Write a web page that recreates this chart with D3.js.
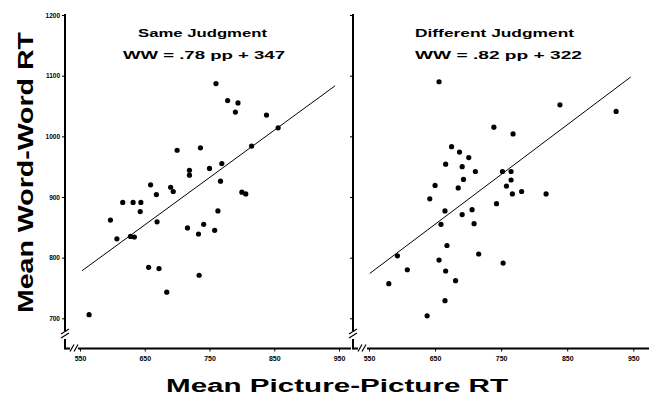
<!DOCTYPE html>
<html><head><meta charset="utf-8">
<script src="https://cdn.jsdelivr.net/npm/d3@7"></script>
<style>
html,body{margin:0;padding:0;background:#fff;}
svg{display:block;}
text{font-family:"Liberation Sans",Arial,Helvetica,sans-serif;fill:#000;}
</style></head>
<body>
<svg id="chart" width="653" height="396"></svg>
<script>
// ---- data ----
const xTicks = [550, 650, 750, 850, 950];
const yTicks = [700, 800, 900, 1000, 1100, 1200];
const panelTitles = ["Same Judgment", "Different Judgment"];
const equations = ["WW = .78 pp + 347", "WW = .82 pp + 322"];
const slopes = [0.78, 0.82];
const intercepts = [347, 322];
const lineRangeSame = [553, 944];
const lineRangeDiff = [551, 946];

const sameX = [760,778,794,790,838,856,815,700,736,719,719,750,769,767,659,668,690,694,800,806,597,616,632,644,643,669,607,628,634,656,672,684,716,733,741,758,763,734,564];
const sameY = [1087,1059,1055,1040,1035,1014,984,977,981,944,936,947,955,926,920,904,916,909,908,905,862,891,891,891,876,859,831,835,834,784,782,743,849,839,855,845,877,771,706];

const diffX = [656,839,924,739,768,675,687,701,666,691,711,752,765,693,765,650,685,758,767,781,818,642,743,665,691,706,659,709,668,716,593,656,753,608,666,681,580,665,638];
const diffY = [1090,1052,1041,1015,1004,983,974,965,954,950,942,942,942,929,928,919,915,918,905,909,905,897,889,877,871,879,855,856,820,806,803,796,791,780,778,762,757,729,704];

const xLabel = "Mean Picture-Picture RT";
const yLabel = "Mean Word-Word RT";

// ---- drawing ----
const svg = d3.select("#chart");
const y = d3.scaleLinear().domain([700, 1200]).range([318.3, 15]);
const panels = [
  {x: d3.scaleLinear().domain([550, 950]).range([80, 339]), axisX: 65, xStart: 78, xEnd: 351, px: sameX, py: sameY, lr: lineRangeSame, labels: true,
   titleX: 138, titleW: 129, eqX: 123, eqW: 162},
  {x: d3.scaleLinear().domain([550, 950]).range([369, 633.3]), axisX: 353, xStart: 367, xEnd: 649, px: diffX, py: diffY, lr: lineRangeDiff, labels: false,
   titleX: 415, titleW: 159, eqX: 415, eqW: 167}
];
const axisY = 348.5;

panels.forEach((p, i) => {
  const g = svg.append("g");
  // y axis ticks
  const ya = d3.axisLeft(y).tickValues(yTicks).tickSize(3).tickSizeOuter(0)
    .tickFormat(p.labels ? d3.format("d") : () => "");
  const gy = g.append("g").attr("transform", `translate(${p.axisX},0)`).call(ya);
  gy.select(".domain").remove();
  gy.selectAll(".tick line").attr("stroke", "#000").attr("stroke-width", 1);
  gy.selectAll(".tick text").attr("font-size", "6.5px").attr("font-weight", "bold").attr("x", -5);

  // x axis ticks
  const xa = d3.axisBottom(p.x).tickValues(xTicks).tickSize(3).tickSizeOuter(0).tickFormat(d3.format("d"));
  const gx = g.append("g").attr("transform", `translate(0,${axisY})`).call(xa);
  gx.select(".domain").remove();
  gx.selectAll(".tick line").attr("stroke", "#000").attr("stroke-width", 1);
  gx.selectAll(".tick text").attr("font-size", "7px").attr("font-weight", "bold").attr("y", 8);

  // axis lines with breaks
  const ax = p.axisX;
  g.append("line").attr("x1", ax).attr("x2", ax).attr("y1", 14).attr("y2", 331)
    .attr("stroke", "#000").attr("stroke-width", 2);
  g.append("line").attr("x1", ax).attr("x2", ax).attr("y1", 339).attr("y2", axisY + 1)
    .attr("stroke", "#000").attr("stroke-width", 2);
  [0, 4].forEach(o => {
    g.append("line").attr("x1", ax - 4).attr("y1", 334 + o).attr("x2", ax + 4).attr("y2", 329 + o)
      .attr("stroke", "#000").attr("stroke-width", 1.2);
  });
  g.append("line").attr("x1", ax).attr("x2", ax + 5).attr("y1", axisY).attr("y2", axisY)
    .attr("stroke", "#000").attr("stroke-width", 2);
  [0, 4].forEach(o => {
    g.append("line").attr("x1", ax + 5 + o).attr("y1", axisY + 3).attr("x2", ax + 9 + o).attr("y2", axisY - 4)
      .attr("stroke", "#000").attr("stroke-width", 1.2);
  });
  g.append("line").attr("x1", p.xStart).attr("x2", p.xEnd).attr("y1", axisY).attr("y2", axisY)
    .attr("stroke", "#000").attr("stroke-width", 2);

  // regression line
  g.append("line")
    .attr("x1", p.x(p.lr[0])).attr("y1", y(slopes[i] * p.lr[0] + intercepts[i]))
    .attr("x2", p.x(p.lr[1])).attr("y2", y(slopes[i] * p.lr[1] + intercepts[i]))
    .attr("stroke", "#000").attr("stroke-width", 1);

  // points
  g.selectAll("circle.pt").data(p.px.map((v, k) => [v, p.py[k]])).enter().append("circle")
    .attr("cx", d => p.x(d[0])).attr("cy", d => y(d[1])).attr("r", 2.6).attr("fill", "#000");

  // titles
  g.append("text").attr("x", p.titleX).attr("y", 37)
    .attr("font-size", "11.5px").attr("font-weight", "bold")
    .attr("textLength", p.titleW).attr("lengthAdjust", "spacingAndGlyphs")
    .text(panelTitles[i]);
  g.append("text").attr("x", p.eqX).attr("y", 58.5)
    .attr("font-size", "11px").attr("font-weight", "bold")
    .attr("textLength", p.eqW).attr("lengthAdjust", "spacingAndGlyphs")
    .text(equations[i]);
});

// axis titles
svg.append("text").attr("transform", "translate(32.5,313) rotate(-90)")
  .attr("font-size", "22px").attr("font-weight", "bold")
  .attr("textLength", 281).attr("lengthAdjust", "spacingAndGlyphs")
  .text(yLabel);
svg.append("text").attr("x", 166).attr("y", 392)
  .attr("font-size", "18px").attr("font-weight", "bold")
  .attr("textLength", 342).attr("lengthAdjust", "spacingAndGlyphs")
  .text(xLabel);
</script>
</body></html>
